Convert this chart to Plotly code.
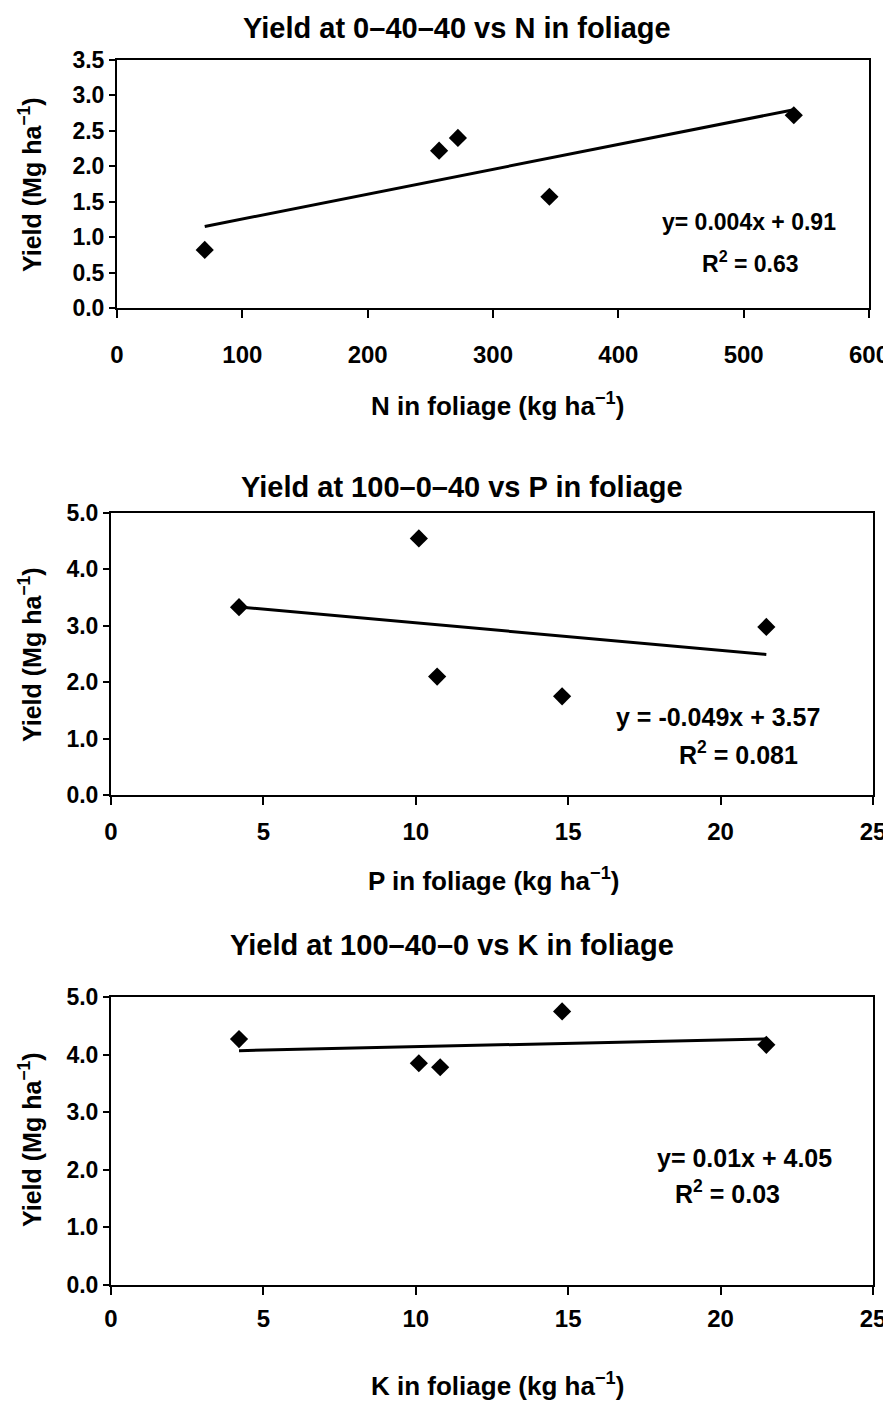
import plotly.graph_objects as go
import numpy as np

# panel 1: N
n_x = [70, 257, 272, 345, 540]
n_y = [0.82, 2.22, 2.40, 1.57, 2.72]
# panel 2: P
p_x = [4.2, 10.1, 10.7, 14.8, 21.5]
p_y = [3.33, 4.55, 2.10, 1.75, 2.98]
# panel 3: K
k_x = [4.2, 10.1, 10.8, 14.8, 21.5]
k_y = [4.27, 3.85, 3.78, 4.75, 4.17]

titles = ["Yield at 0\u201340\u201340 vs N in foliage",
          "Yield at 100\u20130\u201340 vs P in foliage",
          "Yield at 100\u201340\u20130 vs K in foliage"]
xtitles = ["N in foliage (kg ha<sup>\u22121</sup>)",
           "P in foliage (kg ha<sup>\u22121</sup>)",
           "K in foliage (kg ha<sup>\u22121</sup>)"]
eqs = [("y= 0.004x + 0.91", "R<sup>2</sup> = 0.63"),
       ("y = -0.049x + 3.57", "R<sup>2</sup> = 0.081"),
       ("y= 0.01x + 4.05", "R<sup>2</sup> = 0.03")]

FONT = "Liberation Sans, Arial, sans-serif"
PAD = 8  # page body margin around the plot div
W, H = 891 - PAD, 1409 - 2 * PAD

fig = go.Figure()

panels = [(n_x, n_y), (p_x, p_y), (k_x, k_y)]
for i, (xs, ys) in enumerate(panels):
    ax = "" if i == 0 else str(i + 1)
    # linear trend line fitted to the points
    slope, icpt = np.polyfit(xs, ys, 1)
    lx = np.array([min(xs), max(xs)])
    fig.add_trace(go.Scatter(x=lx, y=slope * lx + icpt, mode="lines", xaxis="x" + ax, yaxis="y" + ax,
                             line=dict(color="black", width=3)))
    fig.add_trace(go.Scatter(x=xs, y=ys, mode="markers", xaxis="x" + ax, yaxis="y" + ax,
                             marker=dict(symbol="diamond", size=14, color="black")))

def px_x(v):
    return (v - PAD) / W

def px_y(v):
    return 1 - (v - PAD) / H

# plot area pixel boxes (page coords): left, right, top, bottom
boxes = [(117, 869, 60, 308), (111, 873, 513, 795), (111, 873, 997, 1285)]
xranges = [[0, 600], [0, 25], [0, 25]]
xdticks = [100, 5, 5]
yranges = [[0, 3.5], [0, 5], [0, 5]]
ydticks = [0.5, 1, 1]
standoffs = [16, 6, 3]

layout = {}
for i, (l, r, t, b) in enumerate(boxes):
    ax = "" if i == 0 else str(i + 1)
    layout["xaxis" + ax] = dict(domain=[px_x(l), px_x(r)], range=xranges[i], dtick=xdticks[i], tick0=0,
                                anchor="y" + ax, showgrid=False, zeroline=False,
                                showline=True, linecolor="black", linewidth=2, mirror=True,
                                ticks="outside", ticklen=8, tickwidth=2, tickcolor="black",
                                tickfont=dict(family=FONT, size=24, color="black", weight="bold"),
                                ticklabelstandoff=standoffs[i])
    layout["yaxis" + ax] = dict(domain=[px_y(b), px_y(t)], range=yranges[i], dtick=ydticks[i], tick0=0,
                                anchor="x" + ax, showgrid=False, zeroline=False, tickformat=".1f",
                                showline=True, linecolor="black", linewidth=2, mirror=True,
                                ticks="outside", ticklen=6, tickwidth=2, tickcolor="black",
                                tickfont=dict(family=FONT, size=23, color="black", weight="bold"))

annotations = []
title_pos = [(457, 28), (462, 487), (452, 945)]
xt_pos = [(497, 405), (493, 880), (497, 1384)]
yt_pos = [(30, 185), (30, 655), (30, 1140)]
eq_pos = [((749, 222), (750, 262)), ((718, 717), (738, 753)), ((744, 1158), (727, 1192))]
eq_size = [23, 25, 25]


def note(text, pos, size, angle=0):
    return dict(text=text, x=px_x(pos[0]), y=px_y(pos[1]), xref="paper", yref="paper",
                xanchor="center", yanchor="middle", showarrow=False, textangle=angle,
                font=dict(family=FONT, size=size, color="black", weight="bold"))


for i in range(3):
    annotations.append(note(titles[i], title_pos[i], 29))
    annotations.append(note(xtitles[i], xt_pos[i], 26))
    annotations.append(note("Yield (Mg ha<sup>\u22121</sup>)", yt_pos[i], 25, -90))
    for txt, pos in zip(eqs[i], eq_pos[i]):
        annotations.append(note(txt, pos, eq_size[i]))

fig.update_layout(width=W, height=H, margin=dict(l=0, r=0, t=0, b=0, autoexpand=False),
                  paper_bgcolor="white", plot_bgcolor="white", showlegend=False,
                  annotations=annotations, **layout)

fig.write_html("out.html")
